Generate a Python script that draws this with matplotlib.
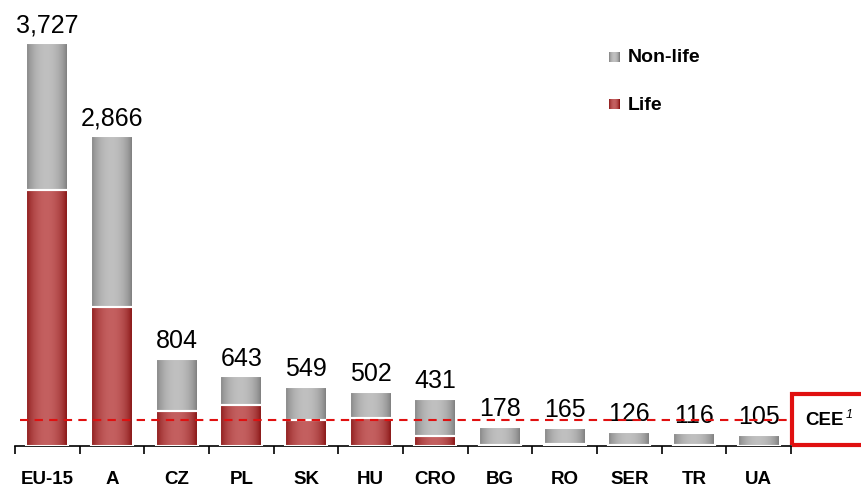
import numpy as np
import matplotlib
matplotlib.use("Agg")
import matplotlib.pyplot as plt
from matplotlib.patches import Rectangle

categories = ["EU-15", "A", "CZ", "PL", "SK", "HU", "CRO", "BG", "RO", "SER", "TR", "UA"]
totals = [3727, 2866, 804, 643, 549, 502, 431, 178, 165, 126, 116, 105]
life = [2370, 1286, 324, 382, 243, 259, 95, 8, 20, 5, 5, 3]
nonlife = [t - l for t, l in zip(totals, life)]
cee_avg = 240

plt.rcParams['font.family'] = ['Liberation Sans', 'DejaVu Sans']

W, H = 861, 489
fig = plt.figure(figsize=(W / 100, H / 100), dpi=100)
x_left, x_right = 15, 791
y_base = 447
ax = fig.add_axes([x_left / W, (H - y_base) / H, (x_right - x_left) / W, y_base / H])
scale = 403 / 3727
ax.set_xlim(-0.5, len(categories) - 0.5)
ax.set_ylim(0, y_base / scale)

x = np.arange(len(categories))
bw = 0.65
life_bars = ax.bar(x, life, width=bw, color='#b03a3a', edgecolor='white', linewidth=1.5, zorder=2)
non_bars = ax.bar(x, nonlife, bottom=life, width=bw, color='#a8a8a8', edgecolor='white', linewidth=1.5, zorder=2)

t = np.linspace(0, 1, 64)
prof = np.sin(np.pi * np.clip(t * 1.05, 0, 1)) ** 0.6

def grad(dark, light):
    dark = np.array(matplotlib.colors.to_rgb(dark))
    light = np.array(matplotlib.colors.to_rgb(light))
    return (dark[None, :] + (light - dark)[None, :] * prof[:, None])[None, :, :]

gray_img = grad('#7a7a7a', '#c0c0c0')
red_img = grad('#850f0f', '#c46060')

for bars, img in ((life_bars, red_img), (non_bars, gray_img)):
    for p in bars:
        x0, y0 = p.get_x(), p.get_y()
        w, h = p.get_width(), p.get_height()
        if h <= 0:
            continue
        im = ax.imshow(img, extent=[x0, x0 + w, y0, y0 + h], aspect='auto',
                       interpolation='bilinear', zorder=2.5)
        im.set_clip_path(Rectangle((x0, y0), w, h, transform=ax.transData))
        ax.add_patch(Rectangle((x0, y0), w, h, fill=False, edgecolor='white', linewidth=1.5, zorder=3))

for xi, tot in zip(x, totals):
    ax.annotate(f"{tot:,}", (xi, tot), xytext=(0, 5), textcoords='offset points',
                ha='center', va='bottom', fontsize=18, color='black')

ax.hlines(cee_avg, -0.42, len(categories) - 0.5, colors='#e01010', linestyles=(0, (4, 3)),
          linewidth=1.5, zorder=4)

for s in ['top', 'right', 'left']:
    ax.spines[s].set_visible(False)
ax.spines['bottom'].set_linewidth(1.2)
ax.set_yticks([])
ax.set_xticks(x)
ax.set_xticklabels(categories, fontsize=13.5, fontweight='bold')
ax.tick_params(axis='x', which='major', length=0, pad=17)
ax.set_xticks(np.arange(-0.5, len(categories)), minor=True)
ax.tick_params(axis='x', which='minor', length=6, width=1.2, direction='out')

# Legend
def legend_item(ypx, img, label):
    lax = fig.add_axes([609 / W, (H - ypx - 10) / H, 11 / W, 10 / H])
    lax.imshow(img, aspect='auto', interpolation='bilinear')
    lax.axis('off')
    fig.text(628 / W, (H - ypx - 5) / H, label, fontsize=14, fontweight='bold', va='center', ha='left')

legend_item(53, gray_img, "Non-life")
legend_item(100, red_img, "Life")

# CEE box
fig.patches.append(Rectangle((792 / W, (H - 446) / H), 0.2, (446 - 395) / H, transform=fig.transFigure,
                             fill=False, edgecolor='#e01010', linewidth=3, clip_on=False))
fig.text(805 / W, (H - 421) / H, "CEE", fontsize=13.5, fontweight='bold', va='center', ha='left')
fig.text(846 / W, (H - 415) / H, "1", fontsize=9, style='italic', va='center', ha='left')

fig.savefig("out.png", dpi=100)
